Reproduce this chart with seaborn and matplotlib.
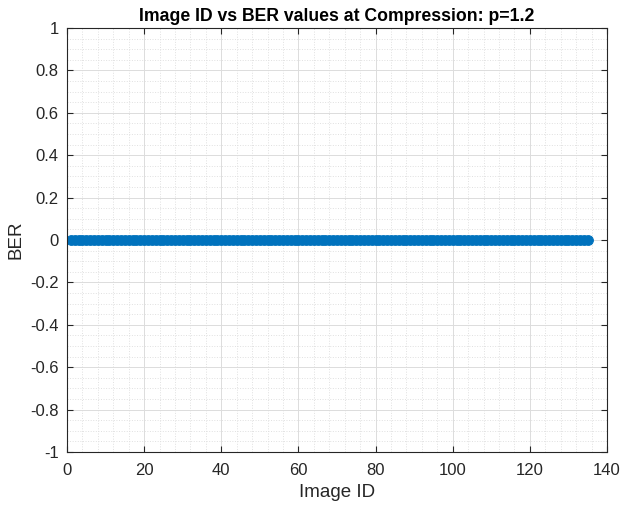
import numpy as np
import pandas as pd
import matplotlib
matplotlib.use("Agg")
import matplotlib.pyplot as plt
import seaborn as sns
from matplotlib.ticker import MultipleLocator

# Image IDs and their BER values (all zero)
image_ids = list(range(1, 136))
ber_values = [0.0] * len(image_ids)

x_ticks = [0, 20, 40, 60, 80, 100, 120, 140]
y_ticks = [-1, -0.8, -0.6, -0.4, -0.2, 0, 0.2, 0.4, 0.6, 0.8, 1]
y_tick_labels = ["-1", "-0.8", "-0.6", "-0.4", "-0.2", "0", "0.2", "0.4", "0.6", "0.8", "1"]

df = pd.DataFrame({"Image ID": image_ids, "BER": ber_values})

sns.set_style("white")
plt.rcParams["font.family"] = ["Liberation Sans", "DejaVu Sans"]

fig = plt.figure(figsize=(6.22, 5.11), dpi=100)
ax = fig.add_axes([0.1077, 0.1155, 0.8683, 0.8295])

sns.lineplot(
    data=df, x="Image ID", y="BER", ax=ax, color="#0072BD",
    marker="o", markersize=7, markeredgecolor="#0072BD", linewidth=1.5,
)

ax.set_xlim(0, 140)
ax.set_ylim(-1, 1)
ax.set_xticks(x_ticks)
ax.set_xticklabels([str(t) for t in x_ticks])
ax.set_yticks(y_ticks)
ax.set_yticklabels(y_tick_labels)
ax.xaxis.set_minor_locator(MultipleLocator(4))
ax.yaxis.set_minor_locator(MultipleLocator(0.05))

ax.grid(which="major", color="#dcdcdc", linewidth=0.7)
ax.grid(which="minor", color="#e0e0e0", linestyle=":", linewidth=0.7)
ax.set_axisbelow(True)

for s in ax.spines.values():
    s.set_color("#262626")
    s.set_linewidth(0.8)
ax.tick_params(which="major", direction="in", length=4, color="#262626",
               labelsize=12, labelcolor="#262626", top=True, right=True,
               bottom=True, left=True)
ax.tick_params(axis="x", which="major", pad=8)
ax.tick_params(axis="y", which="major", pad=6)
ax.tick_params(which="minor", length=0)

ax.set_xlabel("Image ID", fontsize=13.5, color="#262626", labelpad=4)
ax.set_ylabel("BER", fontsize=13.5, color="#262626", labelpad=4)
ax.set_title("Image ID vs BER values at Compression: p=1.2",
             fontsize=12.7, fontweight="bold", color="black", pad=5)

fig.savefig("out.png", dpi=100)
